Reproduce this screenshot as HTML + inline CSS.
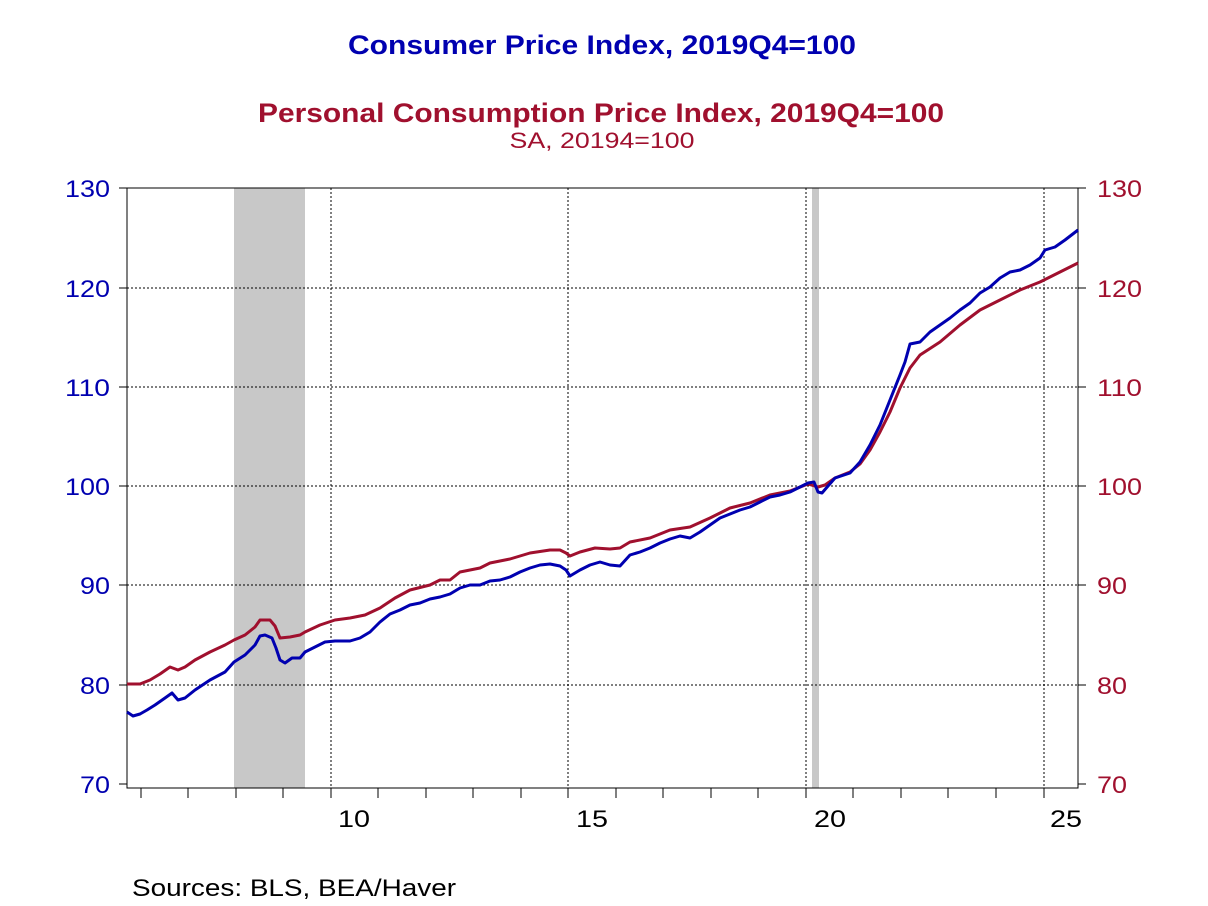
<!DOCTYPE html>
<html><head><meta charset="utf-8"><style>
body{margin:0;background:#fff;}
svg{display:block;font-family:"Liberation Sans",Arial,sans-serif;}
</style></head><body>
<svg width="1208" height="906" viewBox="0 0 1208 906" xmlns="http://www.w3.org/2000/svg">
<rect width="1208" height="906" fill="#fff"/>
<text x="602" y="54" text-anchor="middle" font-size="27" font-weight="bold" fill="#0000b0" textLength="508" lengthAdjust="spacingAndGlyphs">Consumer Price Index, 2019Q4=100</text>
<text x="601" y="122" text-anchor="middle" font-size="27" font-weight="bold" fill="#a0102e" textLength="686" lengthAdjust="spacingAndGlyphs">Personal Consumption Price Index, 2019Q4=100</text>
<text x="602" y="148" text-anchor="middle" font-size="22" fill="#a0102e" textLength="185" lengthAdjust="spacingAndGlyphs">SA, 20194=100</text>
<rect x="234" y="188" width="71" height="600" fill="#c8c8c8"/>
<rect x="812" y="188" width="7" height="600" fill="#c8c8c8"/>
<g stroke="#000" stroke-width="1" stroke-dasharray="2,2">
<line x1="127" y1="288" x2="1078" y2="288"/><line x1="127" y1="387" x2="1078" y2="387"/>
<line x1="127" y1="486" x2="1078" y2="486"/><line x1="127" y1="585" x2="1078" y2="585"/>
<line x1="127" y1="685" x2="1078" y2="685"/>
<line x1="331" y1="188" x2="331" y2="788"/><line x1="568" y1="188" x2="568" y2="788"/>
<line x1="806" y1="188" x2="806" y2="788"/><line x1="1044" y1="188" x2="1044" y2="788"/>
</g>
<rect x="127" y="188" width="951" height="600" fill="none" stroke="#000" stroke-width="1"/>
<g stroke="#000" stroke-width="1">
<line x1="119" y1="188" x2="127" y2="188"/><line x1="119" y1="288" x2="127" y2="288"/><line x1="119" y1="387" x2="127" y2="387"/><line x1="119" y1="486" x2="127" y2="486"/><line x1="119" y1="585" x2="127" y2="585"/><line x1="119" y1="685" x2="127" y2="685"/><line x1="119" y1="784" x2="127" y2="784"/>
<line x1="1078" y1="188" x2="1086" y2="188"/><line x1="1078" y1="288" x2="1086" y2="288"/><line x1="1078" y1="387" x2="1086" y2="387"/><line x1="1078" y1="486" x2="1086" y2="486"/><line x1="1078" y1="585" x2="1086" y2="585"/><line x1="1078" y1="685" x2="1086" y2="685"/><line x1="1078" y1="784" x2="1086" y2="784"/>
<line x1="141" y1="788" x2="141" y2="798"/><line x1="188" y1="788" x2="188" y2="798"/><line x1="236" y1="788" x2="236" y2="798"/><line x1="283" y1="788" x2="283" y2="798"/><line x1="331" y1="788" x2="331" y2="798"/><line x1="378" y1="788" x2="378" y2="798"/><line x1="426" y1="788" x2="426" y2="798"/><line x1="473" y1="788" x2="473" y2="798"/><line x1="521" y1="788" x2="521" y2="798"/><line x1="568" y1="788" x2="568" y2="798"/><line x1="616" y1="788" x2="616" y2="798"/><line x1="663" y1="788" x2="663" y2="798"/><line x1="711" y1="788" x2="711" y2="798"/><line x1="758" y1="788" x2="758" y2="798"/><line x1="806" y1="788" x2="806" y2="798"/><line x1="853" y1="788" x2="853" y2="798"/><line x1="901" y1="788" x2="901" y2="798"/><line x1="948" y1="788" x2="948" y2="798"/><line x1="996" y1="788" x2="996" y2="798"/><line x1="1044" y1="788" x2="1044" y2="798"/>
</g>
<g font-size="24" fill="#0000b0">
<text x="65" y="197" textLength="45" lengthAdjust="spacingAndGlyphs">130</text><text x="65" y="297" textLength="45" lengthAdjust="spacingAndGlyphs">120</text><text x="65" y="396" textLength="45" lengthAdjust="spacingAndGlyphs">110</text><text x="65" y="495" textLength="45" lengthAdjust="spacingAndGlyphs">100</text><text x="80" y="594" textLength="30" lengthAdjust="spacingAndGlyphs">90</text><text x="80" y="694" textLength="30" lengthAdjust="spacingAndGlyphs">80</text><text x="80" y="793" textLength="30" lengthAdjust="spacingAndGlyphs">70</text>
</g>
<g font-size="24" fill="#a0102e">
<text x="1097" y="197" textLength="45" lengthAdjust="spacingAndGlyphs">130</text><text x="1097" y="297" textLength="45" lengthAdjust="spacingAndGlyphs">120</text><text x="1097" y="396" textLength="45" lengthAdjust="spacingAndGlyphs">110</text><text x="1097" y="495" textLength="45" lengthAdjust="spacingAndGlyphs">100</text><text x="1097" y="594" textLength="30" lengthAdjust="spacingAndGlyphs">90</text><text x="1097" y="694" textLength="30" lengthAdjust="spacingAndGlyphs">80</text><text x="1097" y="793" textLength="30" lengthAdjust="spacingAndGlyphs">70</text>
</g>
<g font-size="24" fill="#000">
<text x="338" y="827" textLength="32" lengthAdjust="spacingAndGlyphs">10</text><text x="576" y="827" textLength="32" lengthAdjust="spacingAndGlyphs">15</text><text x="814" y="827" textLength="32" lengthAdjust="spacingAndGlyphs">20</text><text x="1050" y="827" textLength="32" lengthAdjust="spacingAndGlyphs">25</text>
</g>
<text x="132" y="896" font-size="24" fill="#000" textLength="324" lengthAdjust="spacingAndGlyphs">Sources:  BLS, BEA/Haver</text>
<polyline fill="none" stroke="#a0102e" stroke-width="3" stroke-linejoin="round" points="127,684 140,684 150,680 160,674 170,667 178,670 185,667 195,660 210,652 225,645 234,640 245,635 255,627 260,620 270,620 275,626 280,638 290,637 300,635 305,632 320,625 335,620 350,618 365,615 380,608 395,598 410,590 430,585 440,580 450,580 460,572 470,570 480,568 490,563 510,559 530,553 550,550 560,550 566,553 570,556 580,552 595,548 610,549 620,548 630,542 650,538 670,530 690,527 710,518 730,508 750,503 770,495 790,491 808,484 818,487 825,485 835,478 850,472 860,464 870,450 880,432 890,412 900,388 910,368 920,355 940,342 960,325 980,310 1000,300 1020,290 1040,282 1050,277 1060,272 1078,263"/>
<polyline fill="none" stroke="#0000b0" stroke-width="3" stroke-linejoin="round" points="127,712 133,716 140,714 147,710 155,705 165,698 172,693 178,700 185,698 195,690 210,680 225,672 234,662 245,655 255,645 260,636 265,635 272,638 276,648 280,660 285,663 292,658 300,658 305,652 315,647 325,642 335,641 350,641 360,638 370,632 380,622 390,614 400,610 410,605 420,603 430,599 440,597 450,594 460,588 470,585 480,585 490,581 500,580 510,577 520,572 530,568 540,565 550,564 560,566 566,570 570,576 580,570 590,565 600,562 610,565 620,566 630,555 640,552 650,548 660,543 670,539 680,536 690,538 700,532 710,525 720,518 730,514 740,510 750,507 760,502 770,497 780,495 790,492 800,487 808,483 814,482 818,492 822,493 828,486 835,478 850,473 860,462 870,445 880,425 890,400 900,375 905,362 910,344 920,342 930,332 940,325 950,318 960,310 970,303 980,293 990,287 1000,278 1010,272 1020,270 1030,265 1040,258 1045,250 1055,247 1065,240 1078,230"/>
</svg>
</body></html>
